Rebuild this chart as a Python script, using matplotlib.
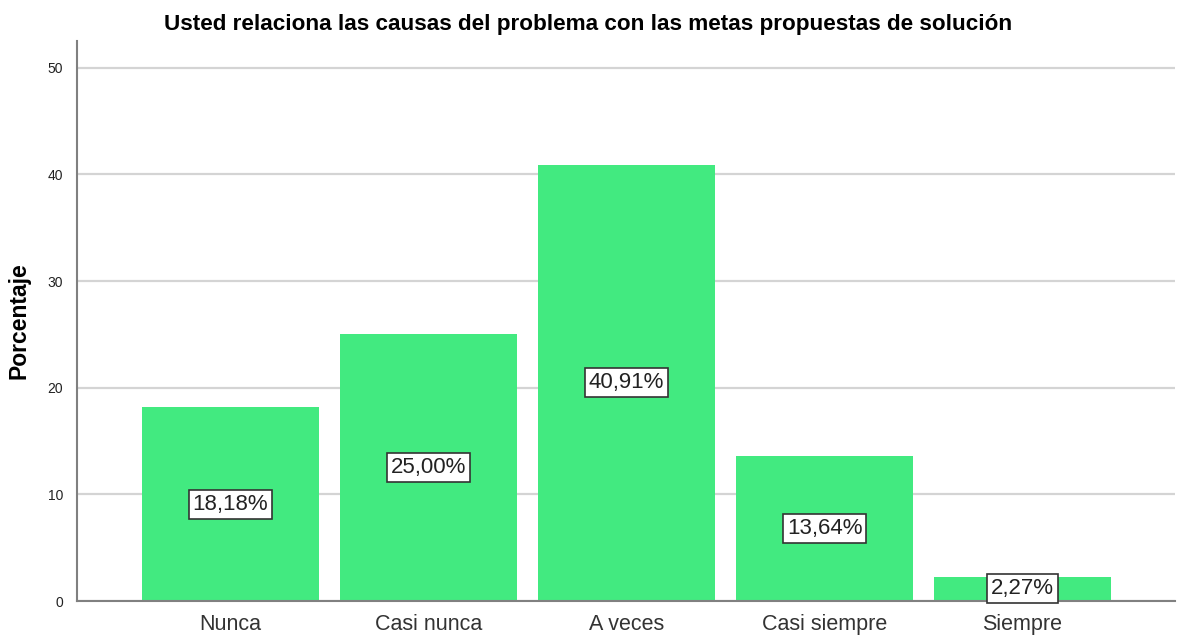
import numpy as np
import matplotlib
matplotlib.use('Agg')
import matplotlib.pyplot as plt

categories = ['Nunca', 'Casi nunca', 'A veces', 'Casi siempre', 'Siempre']
percentages = [18.18, 25.00, 40.91, 13.64, 2.27]
yticks = [0, 10, 20, 30, 40, 50]

plt.rcParams['font.family'] = ['Liberation Sans', 'DejaVu Sans']

fig = plt.figure(figsize=(11.79, 6.35), dpi=100)
ax = fig.add_axes([0.0653, 0.0535, 0.9313, 0.8819])

x = np.arange(len(categories))
ax.set_axisbelow(True)
ax.yaxis.grid(True, color='#d4d4d4', lw=1.6)
bars = ax.bar(x, percentages, width=0.894, color='#42ea80')

for xi, v in zip(x, percentages):
    lbl = ('%.2f%%' % v).replace('.', ',')
    ax.text(xi, v / 2, lbl, ha='center', va='center', fontsize=16, color='#222222',
            bbox=dict(boxstyle='square,pad=0.18', fc='white', ec='#333333', lw=1.2))

ax.set_xlim(-0.775, 4.77)
ax.set_ylim(0, 52.5)
ax.set_xticks(x)
ax.set_xticklabels(categories, fontsize=15.5, color='#333333')
ax.set_yticks(yticks)
ax.set_yticklabels([str(t) for t in yticks], fontsize=10, color='#222222')
ax.tick_params(axis='both', length=0)
ax.tick_params(axis='x', pad=9)
ax.tick_params(axis='y', pad=10)

for s in ['top', 'right']:
    ax.spines[s].set_visible(False)
for s in ['left', 'bottom']:
    ax.spines[s].set_color('#808080')
    ax.spines[s].set_linewidth(1.5)

ax.set_ylabel('Porcentaje', fontsize=16.5, fontweight='bold', labelpad=12)
fig.suptitle('Usted relaciona las causas del problema con las metas propuestas de solución',
             x=0.499, y=0.978, fontsize=16.2, fontweight='bold')

plt.savefig('out.png', dpi=100)
